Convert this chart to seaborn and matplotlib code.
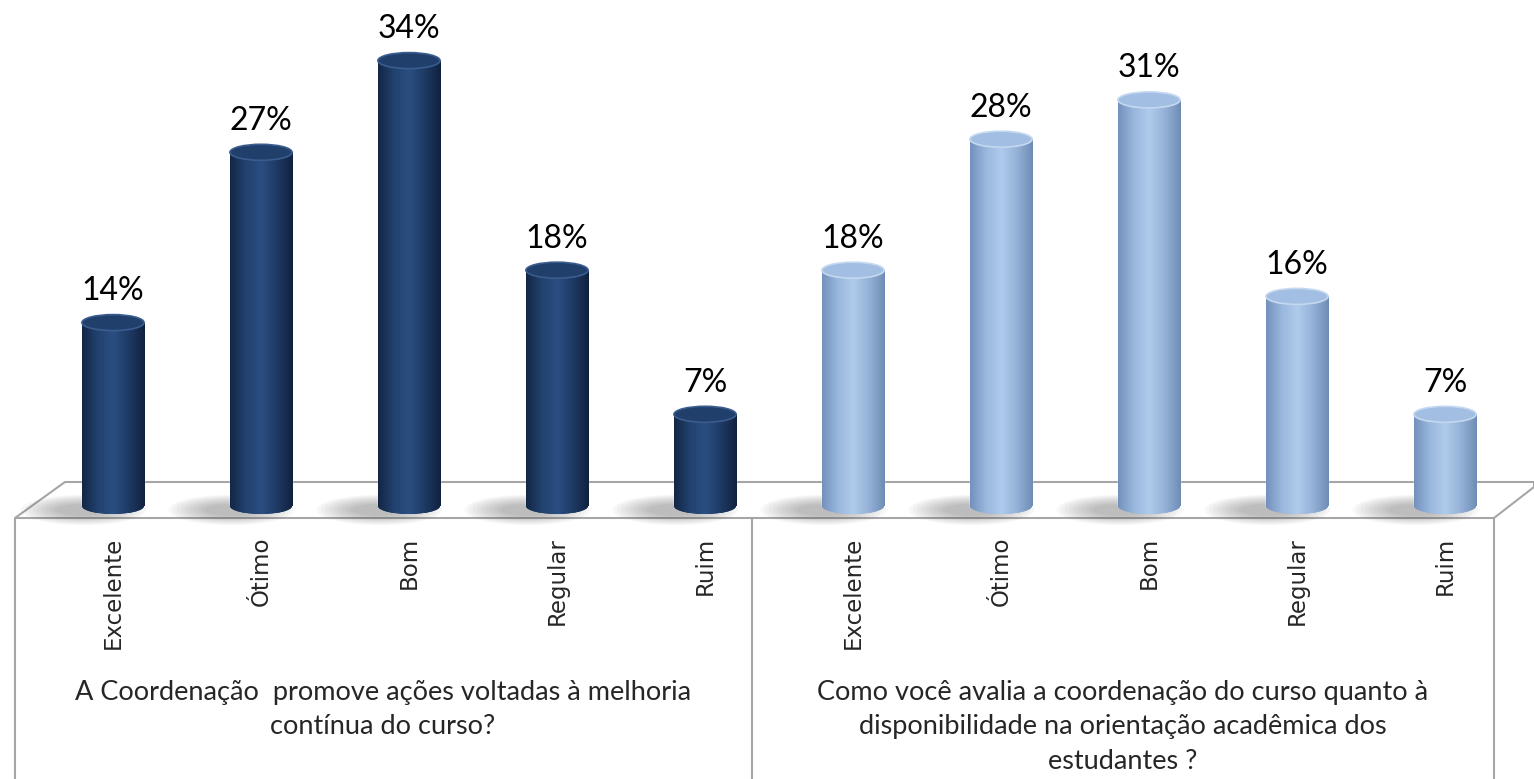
import numpy as np
import pandas as pd
import matplotlib
matplotlib.use('Agg')
import matplotlib.pyplot as plt
import matplotlib.transforms as mtransforms
from matplotlib.patches import Ellipse, Polygon
from matplotlib.colors import LinearSegmentedColormap, to_rgba
import seaborn as sns

# -----------------------------
# Data
# -----------------------------
categories = ['Excelente', 'Ótimo', 'Bom', 'Regular', 'Ruim']
q1_values = [14, 27, 34, 18, 7]
q2_values = [18, 28, 31, 16, 7]
questions = [
    'A Coordenação  promove ações voltadas à melhoria\ncontínua do curso?',
    'Como você avalia a coordenação do curso quanto à\ndisponibilidade na orientação acadêmica dos\nestudantes ?',
]
bar_colors = ['#1F3B66', '#95B3D7']

rows = []
for q, vals in zip(questions, [q1_values, q2_values]):
    for cat, v in zip(categories, vals):
        rows.append({'slot': f'{q[:10]}|{cat}', 'categoria': cat, 'valor': v, 'pergunta': q})
df = pd.DataFrame(rows)

# -----------------------------
# Figure
# -----------------------------
sns.set_theme(style='white')
plt.rcParams['font.family'] = ['Lato', 'DejaVu Sans']

W, H = 1534, 779
fig = plt.figure(figsize=(W / 100, H / 100), dpi=100)
ax = fig.add_axes([0, 0, 1, 1])

sns.barplot(data=df, x='slot', y='valor', hue='pergunta', palette=bar_colors,
            width=0.42, dodge=False, legend=False, saturation=1, ax=ax, zorder=3)

px_per_unit = 13.1
base_px = 506
ax.set_xlim(-113 / 148, (W - 113) / 148)
ax.set_ylim(-(H - base_px) / px_per_unit, base_px / px_per_unit)
ax.axis('off')

def fpt(x, y):
    # pixel position -> figure fraction
    return (x / W, 1 - y / H)

# floor and table
floor = Polygon([fpt(65, 482), fpt(1534, 482), fpt(1534, 487), fpt(1494, 518), fpt(15, 518)],
                closed=True, transform=fig.transFigure, facecolor='white',
                edgecolor='#A6A6A6', lw=1.5, zorder=1)
ax.add_patch(floor)
for x in [15, 752, 1494]:
    ax.add_line(plt.Line2D([x / W, x / W], [1 - 518 / H, 0], transform=fig.transFigure,
                           color='#A6A6A6', lw=1.5, zorder=1))

# cylinder shading
shades = {
    '#1F3B66': ['#132645', '#22426F', '#2B4E82', '#1E3A63', '#112240'],
    '#95B3D7': ['#7391BC', '#9AB7DD', '#B0CBEC', '#94B1D7', '#6F8CB5'],
}
tops = {'#1F3B66': ('#213F6B', '#3A5C8E'), '#95B3D7': ('#A2BEE2', '#C4D8F0')}
cap_h = 16 / px_per_unit

for patch in ax.patches[:]:
    if not hasattr(patch, 'get_width') or patch.get_height() <= 0:
        continue
    fc = matplotlib.colors.to_hex(patch.get_facecolor())
    key = min(shades, key=lambda k: np.sum((np.array(to_rgba(k)) - np.array(to_rgba(fc))) ** 2))
    cmap = LinearSegmentedColormap.from_list('cyl', shades[key])
    x0, w, h = patch.get_x(), patch.get_width(), patch.get_height()
    cx = x0 + w / 2
    grad = np.linspace(0, 1, 128).reshape(1, -1)

    # soft shadow on the floor, thrown to the left
    n = 10
    for k in range(n):
        sh = Ellipse((cx - 0.2, -0.3), 0.85 - k * 0.055, 2.3 - k * 0.16, facecolor='#505050',
                     edgecolor='none', alpha=0.045, zorder=2)
        ax.add_patch(sh)

    bottom = Ellipse((cx, 0), w, cap_h, facecolor=key, edgecolor='none', zorder=3)
    ax.add_patch(bottom)
    for clip in [patch, bottom]:
        im = ax.imshow(grad, cmap=cmap, extent=(x0, x0 + w, -cap_h, h), aspect='auto',
                       zorder=4, interpolation='bilinear')
        im.set_clip_path(clip)
    top = Ellipse((cx, h), w, cap_h, facecolor=tops[key][0], edgecolor=tops[key][1],
                  lw=1.2, zorder=5)
    ax.add_patch(top)

ax.set_xlim(-113 / 148, (W - 113) / 148)
ax.set_ylim(-(H - base_px) / px_per_unit, base_px / px_per_unit)

# value labels
for cont in ax.containers:
    vals = [b.get_height() for b in cont]
    ax.bar_label(cont, labels=[f'{v:.0f}%' for v in vals], padding=12,
                 fontsize=23, color='black', zorder=6)

# category labels (rotated)
trans = mtransforms.blended_transform_factory(ax.transData, fig.transFigure)
for i, cat in enumerate(categories * 2):
    ax.text(i, 1 - 537 / H, cat, rotation=90, ha='center', va='top',
            fontsize=16.5, family='DejaVu Sans', transform=trans)

# question labels
for cx_px, q in zip([383, 1123], questions):
    ax.text(cx_px / W, 1 - 680 / H, q, ha='center', va='top', fontsize=19.5,
            linespacing=1.47, transform=fig.transFigure)

fig.savefig('out.png', dpi=100, facecolor='white')
